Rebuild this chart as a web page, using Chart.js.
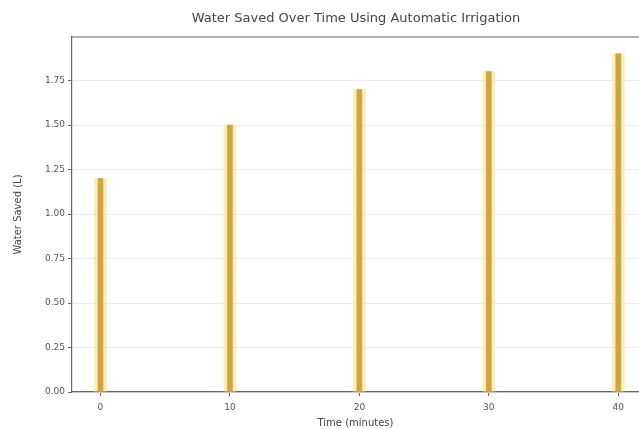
<!DOCTYPE html>
<html>
<head>
<meta charset="utf-8">
<script src="https://cdn.jsdelivr.net/npm/chart.js@4.4.0/dist/chart.umd.min.js"></script>
<style>
  html, body { margin: 0; padding: 0; background: #ffffff; }
  #wrap { width: 639px; height: 429px; position: relative; }
</style>
</head>
<body>
<div id="wrap"><canvas id="c"></canvas></div>
<script>
const times = [0, 10, 20, 30, 40];
const waterSaved = [1.2, 1.5, 1.7, 1.8, 1.9];
const yTicks = [0, 0.25, 0.5, 0.75, 1.0, 1.25, 1.5, 1.75];
const titleText = 'Water Saved Over Time Using Automatic Irrigation';

const pts = times.map((t, i) => ({ x: t, y: waterSaved[i] }));

const frame = {
  id: 'frame',
  afterDraw(chart) {
    const { ctx, chartArea: a } = chart;
    ctx.save();
    ctx.strokeStyle = '#666';
    ctx.lineWidth = 1.2;
    ctx.beginPath();
    ctx.moveTo(a.left, a.top);
    ctx.lineTo(a.right, a.top);
    ctx.stroke();
    ctx.fillStyle = '#444';
    ctx.font = '13px "DejaVu Sans"';
    ctx.textAlign = 'center';
    ctx.textBaseline = 'middle';
    ctx.fillText(titleText, 356, 19);
    ctx.restore();
  }
};

new Chart(document.getElementById('c'), {
  type: 'bar',
  data: {
    datasets: [
      {
        data: pts,
        backgroundColor: 'rgba(250, 222, 130, 0.55)',
        barThickness: 12,
        grouped: false,
        order: 2
      },
      {
        data: pts,
        backgroundColor: '#cfa542',
        barThickness: 5,
        grouped: false,
        order: 1
      }
    ]
  },
  options: {
    responsive: true,
    maintainAspectRatio: false,
    animation: false,
    devicePixelRatio: 1,
    layout: { padding: { top: 37, right: 0, left: 0, bottom: 0 } },
    plugins: { legend: { display: false }, tooltip: { enabled: false }, title: { display: false } },
    scales: {
      x: {
        type: 'linear',
        offset: false,
        min: -2.2,
        max: 41.6,
        afterBuildTicks(s) { s.ticks = times.map(v => ({ value: v })); },
        afterFit(s) { s.height = 37; },
        grid: { offset: false, drawOnChartArea: false, drawTicks: true, tickColor: '#666', tickLength: 4 },
        border: { color: '#666', width: 1.2 },
        ticks: {
          color: '#555',
          font: { family: 'DejaVu Sans', size: 9 },
          padding: 6,
          maxRotation: 0
        },
        title: {
          display: true,
          text: 'Time (minutes)',
          color: '#444',
          font: { family: 'DejaVu Sans', size: 10 },
          padding: { top: 0, bottom: 0 }
        }
      },
      y: {
        min: 0,
        max: 1.995,
        afterBuildTicks(s) { s.ticks = yTicks.map(v => ({ value: v })); },
        afterFit(s) { s.width = 72; },
        grid: { color: '#ececec', lineWidth: 1, tickColor: '#666', tickLength: 4 },
        border: { color: '#666', width: 1.2 },
        ticks: {
          color: '#555',
          font: { family: 'DejaVu Sans', size: 9 },
          padding: 3,
          callback: v => Number(v).toFixed(2)
        },
        title: {
          display: true,
          text: 'Water Saved (L)',
          color: '#444',
          font: { family: 'DejaVu Sans', size: 10 },
          padding: { top: 12, bottom: 4 }
        }
      }
    }
  },
  plugins: [frame]
});
</script>
</body>
</html>
